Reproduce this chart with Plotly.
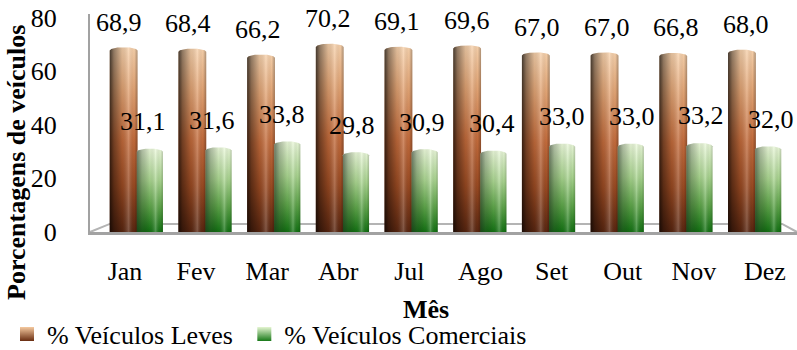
import math
import plotly.graph_objects as go

# ---------------- data ----------------
meses = ["Jan", "Fev", "Mar", "Abr", "Jul", "Ago", "Set", "Out", "Nov", "Dez"]
leves = [68.9, 68.4, 66.2, 70.2, 69.1, 69.6, 67.0, 67.0, 66.8, 68.0]
comerciais = [31.1, 31.6, 33.8, 29.8, 30.9, 30.4, 33.0, 33.0, 33.2, 32.0]
nomes = ["% Veículos Leves", "% Veículos Comerciais"]
y_ticks = [0, 20, 40, 60, 80]

# ---------------- style ----------------
FONT = "Liberation Serif, Times New Roman, serif"
GRAY = "#a2a2a2"
ORANGE_V = [[0, "#5a2610"], [0.25, "#9a4a22"], [0.5, "#c46c3c"], [0.78, "#e4a676"], [1, "#f8d2ac"]]
GREEN_V = [[0, "#137313"], [0.3, "#5ea64a"], [0.62, "#aad690"], [1, "#ecfadb"]]
SHADE_O = [[0, "rgba(0,0,0,0.72)"], [0.15, "rgba(0,0,0,0.42)"], [0.45, "rgba(0,0,0,0.1)"],
           [0.68, "rgba(255,255,255,0.22)"], [0.88, "rgba(0,0,0,0.02)"], [1, "rgba(0,0,0,0.3)"]]
SHADE_G = [[0, "rgba(30,40,30,0.6)"], [0.2, "rgba(30,40,30,0.3)"], [0.5, "rgba(0,0,0,0.05)"],
           [0.72, "rgba(255,255,255,0.25)"], [0.9, "rgba(0,0,0,0.03)"], [1, "rgba(0,0,0,0.2)"]]
GEOM = {  # offset/width in category units, relative to category centre
    0: (-0.39, 0.015),
    1: (0.005, 0.385),
}
CAP = 1.2  # ellipse height of cylinder top, data units


def cylinder(xc, v, lo, hi, n=18):
    x0, x1 = xc + lo, xc + hi
    xs, ys = [x0, x0], [0, v - CAP]
    for k in range(n + 1):
        t = k / n
        xs.append(x0 + (x1 - x0) * t)
        ys.append(v - CAP + CAP * math.sqrt(max(0.0, 1 - (2 * t - 1) ** 2)))
    xs += [x1, x0]
    ys += [0, 0]
    return xs, ys, x0, x1


fig = go.Figure()
series = [(leves, ORANGE_V, SHADE_O), (comerciais, GREEN_V, SHADE_G)]
for i in range(len(meses)):
    for s, (vals, vcs, shade) in enumerate(series):
        v = vals[i]
        lo, hi = GEOM[s]
        xs, ys, x0, x1 = cylinder(i, v, lo, hi)
        fig.add_trace(go.Scatter(
            x=xs, y=ys, mode="lines", fill="toself", line=dict(width=0),
            fillgradient=dict(type="vertical", colorscale=vcs, start=0, stop=v),
            hoverinfo="skip", showlegend=False))
        fig.add_trace(go.Scatter(
            x=xs, y=ys, mode="lines", fill="toself", line=dict(width=0),
            fillgradient=dict(type="horizontal", colorscale=shade, start=x0, stop=x1),
            hoverinfo="skip", showlegend=False))

# legend entries (on label axis); trailing no-break space only widens the first entry slightly
legend_names = [nomes[0] + "\u00a0", nomes[1]]
for nome, top, bot in [(legend_names[0], "#f6caa0", "#6a2e12"), (legend_names[1], "#e6f6d2", "#1a7a1a")]:
    fig.add_trace(go.Scatter(
        x=[None], y=[None], xaxis="x2", mode="markers", name=nome,
        marker=dict(symbol="square", size=14, color=top,
                    gradient=dict(type="vertical", color=bot))))

# data labels
ann = []
for i in range(len(meses)):
    for s, vals in enumerate([leves, comerciais]):
        lo, hi = GEOM[s]
        xc = i + (lo + hi) / 2
        shift = (-5 + i * 1.0) if s == 0 else (-7.4 + i * 1.16)
        ann.append(dict(x=xc, y=vals[i], xref="x", yref="y",
                        text=f"{vals[i]:.1f}".replace(".", ","), showarrow=False,
                        xanchor="center", yanchor="middle",
                        xshift=shift, yshift=25 if s == 0 else 27,
                        font=dict(family=FONT, size=26, color="black")))

ann.append(dict(x=-0.1047, y=0.321, xref="paper", yref="paper", text="<b>Porcentagens de veículos</b>",
                textangle=-90, showarrow=False, xanchor="center", yanchor="middle",
                font=dict(family=FONT, size=26, color="black")))
ann.append(dict(x=0.475, y=-0.355, xref="paper", yref="paper", text="<b>Mês</b>",
                showarrow=False, xanchor="center", yanchor="middle",
                font=dict(family=FONT, size=26, color="black")))

fig.update_layout(
    width=797, height=350,
    margin=dict(l=90, r=0, t=14, b=118),
    paper_bgcolor="white", plot_bgcolor="white",
    font=dict(family=FONT, size=26, color="black"),
    xaxis=dict(range=[-0.677, 9.614], showticklabels=False, showgrid=False, zeroline=False,
               showline=True, linecolor=GRAY, linewidth=3, ticks=""),
    xaxis2=dict(range=[-0.492, 9.451], overlaying="x", anchor="y", side="bottom",
                tickvals=list(range(len(meses))), ticktext=meses, showgrid=False, zeroline=False,
                showline=False, ticks="outside", ticklen=0, ticklabelstandoff=16,
                tickfont=dict(family=FONT, size=26, color="black")),
    yaxis=dict(range=[0, 81.3], tickvals=y_ticks, showgrid=False, zeroline=False,
               showline=True, linecolor=GRAY, linewidth=2, ticks="outside", ticklen=0,
               ticklabelstandoff=26, tickfont=dict(family=FONT, size=26, color="black")),
    showlegend=True,
    legend=dict(orientation="h", xref="container", yref="container", x=7 / 797, y=16 / 350,
                xanchor="left", yanchor="middle", font=dict(family=FONT, size=26, color="black"),
                bgcolor="rgba(0,0,0,0)", itemclick=False),
    annotations=ann,
    shapes=[dict(type="path", xref="paper", yref="paper",
                 path="M 0 0 L 0.028 0.037 L 0.979 0.037 L 1 0",
                 line=dict(color="#b4b4b4", width=2), layer="below")],
)

fig.write_html("out.html")
